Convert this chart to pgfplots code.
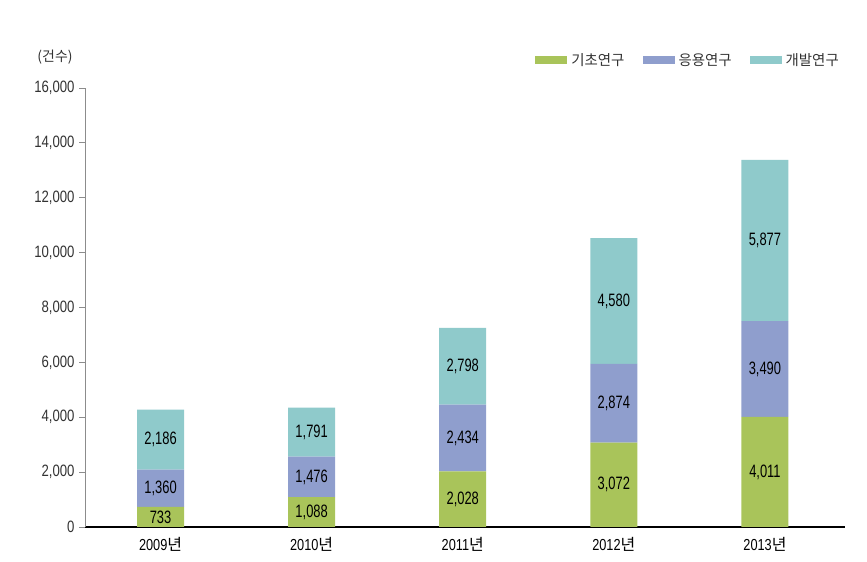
\documentclass[border=0pt]{standalone}
\usepackage{pgfplots}
\usepackage{pgfplotstable}
\pgfplotsset{compat=1.18}
\usepackage{fontspec}
\setmainfont{Liberation Sans}[FakeStretch=0.8]
\newfontfamily\narrowfont{Liberation Sans}[FakeStretch=0.72]
\newfontfamily\kr{Noto Sans CJK KR}
\definecolor{cbasic}{HTML}{A9C45A}
\definecolor{capplied}{HTML}{8F9ECD}
\definecolor{cdev}{HTML}{8FCACB}
\pgfplotstableread{
x basic applied dev
0 733 1360 2186
1 1088 1476 1791
2 2028 2434 2798
3 3072 2874 4580
4 4011 3490 5877
}\datatable
\begin{document}
\begin{tikzpicture}
\path[use as bounding box] (0,0) rectangle (867bp,562bp);
\begin{axis}[
  at={(85bp,35bp)}, anchor=south west,
  scale only axis, width=760bp, height=439bp,
  ybar stacked, bar width=47bp,
  xmin=-0.5, xmax=4.53, ymin=0, ymax=16000,
  xtick=data,
  xticklabels={2009{\kr 년},2010{\kr 년},2011{\kr 년},2012{\kr 년},2013{\kr 년}},
  xticklabel style={font=\fontsize{16}{19}\selectfont, text=black, yshift=-1bp},
  xtick style={draw=none},
  ytick={0,2000,...,16000},
  scaled y ticks=false,
  /pgf/number format/.cd, 1000 sep={,}, assume math mode=true, /pgfplots/.cd,
  yticklabel style={font=\fontsize{16.5}{18}\selectfont, text=black!80, xshift=-1bp},
  axis x line=bottom, axis y line=left,
  axis line style={-},
  x axis line style={black, line width=2.6bp},
  y axis line style={black!45, line width=0.9bp},
  tick align=outside, major tick length=6bp,
  ytick style={black!45, line width=0.9bp},
  nodes near coords={\pgfmathprintnumber[1000 sep={,}, assume math mode=true]{\pgfplotspointmeta}},
  nodes near coords align=center,
  every node near coord/.style={anchor=center,
     font=\narrowfont\fontsize{18}{20}\selectfont, text=black},
  legend columns=3,
  legend style={at={(1,1)}, anchor=east, xshift=-4bp, yshift=28bp, draw=none, fill=none,
    font=\kr\fontsize{14.5}{16}\selectfont, text=black!80,
    /tikz/every even column/.append style={column sep=16bp},
    /tikz/every odd column/.append style={column sep=2bp},
    inner sep=0pt},
  legend image code/.code={\path[#1,draw=none] (0bp,-4bp) rectangle (32bp,4bp);},
]
\addplot[fill=cbasic, draw=none] table[x=x, y=basic, meta=basic] {\datatable};
\addplot[fill=capplied, draw=none] table[x=x, y=applied, meta=applied] {\datatable};
\addplot[fill=cdev, draw=none] table[x=x, y=dev, meta=dev] {\datatable};
\legend{기초연구,응용연구,개발연구}
\end{axis}
\node[font=\kr\fontsize{14}{16}\selectfont, text=black!80] at (55bp,505bp) {(건수)};
\end{tikzpicture}
\end{document}
